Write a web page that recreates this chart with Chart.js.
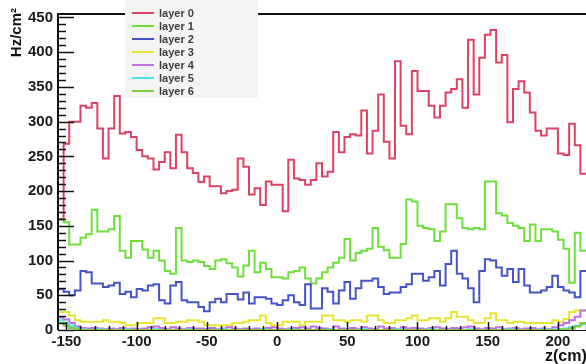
<!DOCTYPE html>
<html>
<head>
<meta charset="utf-8">
<script src="https://cdn.jsdelivr.net/npm/chart.js@4.4.1/dist/chart.umd.min.js"></script>
<style>
html, body { margin: 0; padding: 0; background: #fff; }
#wrap { width: 586px; height: 364px; }
</style>
</head>
<body>
<div id="wrap"><canvas id="rate-chart" width="586" height="364"></canvas></div>
<script>
// Hit rate per layer vs z, 4 cm bins, first lower edge at -156 cm
const BIN_START = -156;
const BIN_WIDTH = 4;
const X_MIN = -156, X_MAX = 220;
const Y_MAX = 455;
const xTicks = [-150, -100, -50, 0, 50, 100, 150, 200];
const yTicks = [0, 50, 100, 150, 200, 250, 300, 350, 400, 450];

const layerNames = ['layer 0', 'layer 1', 'layer 2', 'layer 3', 'layer 4', 'layer 5', 'layer 6'];
const layerColors = ['#de4262', '#6ee03c', '#4552c8', '#e6e632', '#c46ee6', '#4ee0e6', '#7ccf3a'];

const layer0 = [160,268,300,300,323,320,327,290,247,290,
                337,283,285,278,259,250,247,231,242,256,
                233,281,256,233,226,213,221,207,207,197,
                200,202,247,235,195,204,180,214,209,209,
                171,245,218,216,209,216,240,221,228,285,
                256,278,282,280,316,254,287,339,271,247,
                387,294,282,373,344,344,323,306,323,342,
                347,361,320,418,339,392,425,432,385,396,
                299,347,358,342,313,287,280,290,290,254,
                252,297,266,225];
const layer1 = [159,155,123,123,133,138,173,142,142,145,
                164,114,104,128,128,116,104,114,100,85,
                81,147,100,98,100,98,92,88,100,102,
                96,90,77,93,114,83,97,88,76,76,
                74,83,85,90,74,67,74,83,90,97,
                104,131,100,111,114,117,147,120,115,104,
                104,124,188,185,150,147,145,128,142,181,
                181,161,147,145,147,145,214,214,168,165,
                154,150,147,128,152,128,145,145,142,130,
                117,68,140,114];
const layer2 = [59,55,50,57,85,83,67,67,62,64,
                68,52,55,47,59,57,64,66,43,38,
                64,69,43,40,40,33,27,40,45,40,
                52,52,44,54,38,47,47,45,38,36,
                43,50,40,36,66,31,31,60,55,38,
                57,69,45,60,71,71,74,62,52,54,
                54,62,66,81,81,71,76,85,64,95,
                114,81,74,60,40,85,102,100,90,78,
                88,69,88,64,54,54,57,62,78,62,
                57,54,47,85];
const layer3 = [26,26,21,14,12,12,12,12,14,12,
                12,10,7,7,10,10,10,17,17,10,
                10,12,12,14,14,12,7,7,7,7,
                7,10,10,12,14,14,21,10,7,7,
                12,12,12,7,12,12,12,21,21,14,
                14,12,14,14,12,21,21,14,10,10,
                14,14,17,21,14,14,17,17,12,17,
                26,19,19,14,10,10,17,24,14,14,
                10,12,12,10,10,10,10,10,14,12,
                16,26,28,28];
const layer4 = [18,15,10,5,3,2,3,2,1,2,
                1,3,1,2,1,2,4,5,3,1,
                4,2,1,3,2,2,1,3,1,2,
                4,2,1,2,1,2,1,3,4,2,
                1,2,3,4,2,5,3,2,1,5,
                2,1,3,1,4,2,1,5,2,3,
                1,4,2,3,2,1,3,4,2,1,
                3,2,4,5,2,1,3,2,4,1,
                2,3,1,2,3,1,2,1,4,7,
                10,14,19,28];
const layer5 = [14,10,6,3,1,0,0,1,0,0,
                0,0,1,0,0,0,0,1,0,0,
                0,0,0,1,0,0,0,0,0,1,
                0,0,0,0,0,0,1,0,0,0,
                0,1,0,0,0,0,0,0,1,0,
                0,0,0,0,1,0,0,0,0,0,
                1,0,0,0,0,0,1,0,0,0,
                0,0,0,1,0,0,0,0,0,0,
                1,0,0,0,0,0,1,0,1,1,
                2,4,6,8];
const layer6 = [10,6,3,1,0,0,0,0,0,0,
                0,0,0,0,0,0,0,0,0,0,
                0,0,0,0,0,0,0,0,0,0,
                0,0,0,0,0,0,0,0,0,0,
                0,0,0,0,0,0,0,0,0,0,
                0,0,0,0,0,0,0,0,0,0,
                0,0,0,0,0,0,0,0,0,0,
                0,0,0,0,0,0,0,0,0,0,
                0,0,0,0,0,0,0,0,0,1,
                1,2,5,10];

const layers = [layer0, layer1, layer2, layer3, layer4, layer5, layer6];

// histogram outline: one point per lower bin edge + closing point at the last upper edge
function toSteps(values) {
    const pts = values.map((v, i) => ({ x: BIN_START + i * BIN_WIDTH, y: v }));
    pts.push({ x: BIN_START + values.length * BIN_WIDTH, y: values[values.length - 1] });
    return pts;
}

const FONT = '"Liberation Sans", Arial, sans-serif';

// ROOT-like frame, inward ticks, legend and axis titles
const rootFrame = {
    id: 'rootFrame',
    afterDatasetsDraw(chart) {
        const { ctx, chartArea: a, scales: { x, y } } = chart;
        ctx.save();
        ctx.strokeStyle = '#111';

        // y ticks (major every 50, minor every 10)
        ctx.lineWidth = 1.5;
        for (let v = 0; v <= 450; v += 10) {
            const py = Math.round(y.getPixelForValue(v)) + 0.5;
            const len = v % 50 === 0 ? 16 : 8;
            ctx.beginPath();
            ctx.moveTo(a.left, py);
            ctx.lineTo(a.left + len, py);
            ctx.stroke();
        }
        // x ticks
        for (let v = -150; v <= 220; v += 10) {
            const px = Math.round(x.getPixelForValue(v)) + 0.5;
            const len = v % 50 === 0 ? 8 : 4;
            ctx.beginPath();
            ctx.moveTo(px, a.bottom);
            ctx.lineTo(px, a.bottom - len);
            ctx.stroke();
        }

        // frame lines
        ctx.lineWidth = 2;
        ctx.beginPath();
        ctx.moveTo(a.left, a.bottom);
        ctx.lineTo(a.left, a.top);
        ctx.lineTo(a.right, a.top);
        ctx.stroke();
        ctx.lineWidth = 1;
        ctx.beginPath();
        ctx.moveTo(a.left, a.bottom + 0.5);
        ctx.lineTo(a.right, a.bottom + 0.5);
        ctx.stroke();
        ctx.restore();
    },
    afterDraw(chart) {
        const { ctx } = chart;
        ctx.save();

        // legend box
        ctx.fillStyle = '#f4f4f4';
        ctx.fillRect(125, 0, 133, 98);
        ctx.font = 'bold 11px ' + FONT;
        ctx.textBaseline = 'middle';
        ctx.textAlign = 'left';
        layerNames.forEach((name, i) => {
            const ly = 13 + i * 13;
            ctx.strokeStyle = layerColors[i];
            ctx.lineWidth = 2;
            ctx.beginPath();
            ctx.moveTo(132, ly);
            ctx.lineTo(154, ly);
            ctx.stroke();
            ctx.fillStyle = '#3c3c3c';
            ctx.fillText(name, 159, ly + 0.5);
        });

        // axis titles
        ctx.fillStyle = '#111';
        ctx.font = 'bold 15px ' + FONT;
        ctx.save();
        ctx.translate(17, 8);
        ctx.rotate(-Math.PI / 2);
        ctx.textAlign = 'right';
        ctx.textBaseline = 'middle';
        ctx.fillText('Hz/cm²', 0, 0);
        ctx.restore();

        ctx.font = 'bold 16px ' + FONT;
        ctx.textAlign = 'left';
        ctx.textBaseline = 'middle';
        ctx.fillText('z(cm)', 545, 357);
        ctx.restore();
    }
};

new Chart(document.getElementById('rate-chart'), {
    type: 'line',
    data: {
        datasets: layers.map((vals, i) => ({
            label: layerNames[i],
            data: toSteps(vals),
            borderColor: layerColors[i],
            borderWidth: 2,
            stepped: true,
            pointRadius: 0,
            fill: false,
            borderJoinStyle: 'miter',
            clip: 3,
            order: 6 - i
        }))
    },
    options: {
        responsive: false,
        animation: false,
        devicePixelRatio: 1,
        layout: { padding: { top: 10, right: 0, left: 0, bottom: 0 } },
        plugins: {
            legend: { display: false },
            tooltip: { enabled: false }
        },
        scales: {
            x: {
                type: 'linear',
                min: X_MIN,
                max: X_MAX,
                afterBuildTicks: (scale) => { scale.ticks = xTicks.map(v => ({ value: v })); },
                afterFit: (scale) => { scale.height = 34; },
                grid: { display: false, drawTicks: false },
                border: { display: false },
                ticks: {
                    color: '#1a1a1a',
                    padding: 3,
                    maxRotation: 0,
                    autoSkip: false,
                    font: { family: FONT, size: 15, weight: 'bold' }
                }
            },
            y: {
                min: 0,
                max: Y_MAX,
                afterBuildTicks: (scale) => { scale.ticks = yTicks.map(v => ({ value: v })); },
                afterFit: (scale) => { scale.width = 58; },
                grid: { display: false, drawTicks: false },
                border: { display: false },
                ticks: {
                    color: '#1a1a1a',
                    padding: 5,
                    autoSkip: false,
                    font: { family: FONT, size: 15, weight: 'bold' }
                }
            }
        }
    },
    plugins: [rootFrame]
});
</script>
</body>
</html>
